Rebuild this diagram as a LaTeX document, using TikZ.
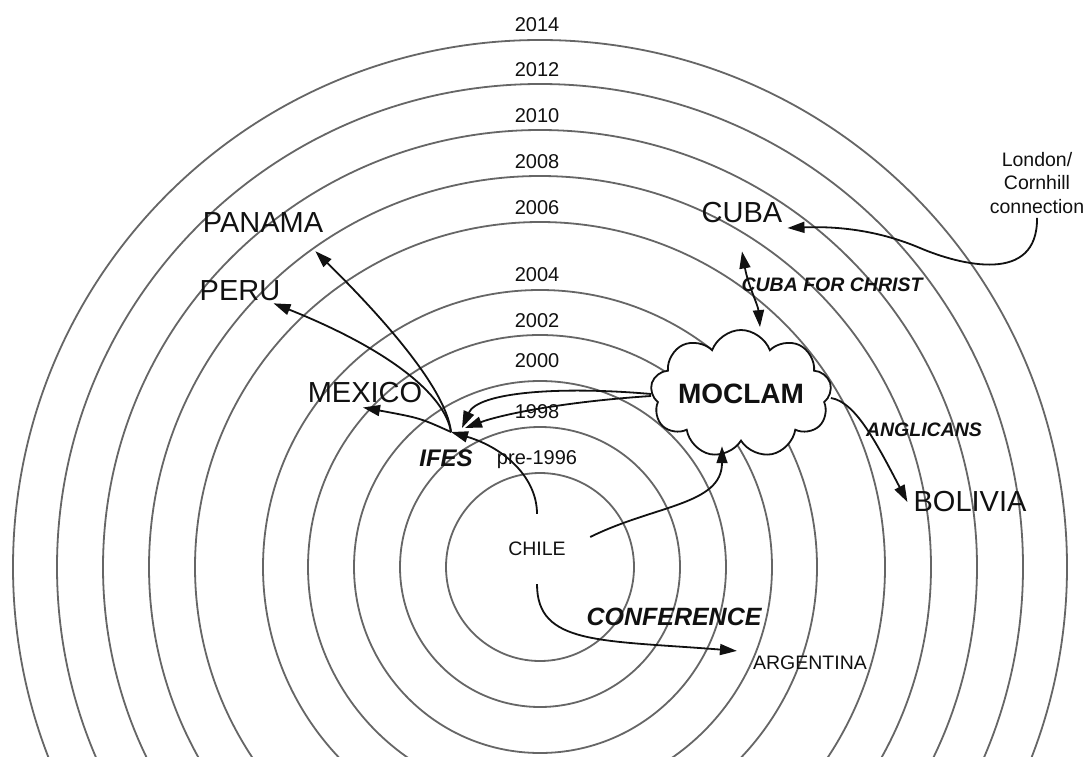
\documentclass[tikz,border=0pt]{standalone}
\usepackage{fontspec}
\setmainfont{Liberation Sans}
\usetikzlibrary{shapes.symbols,arrows.meta}
\definecolor{ringgray}{HTML}{666666}
\definecolor{ink}{HTML}{111111}
\tikzset{
  ring/.style={draw=ringgray, line width=1.8pt},
  conn/.style={draw=ink, line width=1.8pt, -{Triangle[length=17pt,width=11pt]}},
  conn2/.style={draw=ink, line width=1.8pt, {Triangle[length=17pt,width=11pt]}-{Triangle[length=17pt,width=11pt]}},
  yr/.style={text=ink, inner sep=0pt, font=\fontsize{20}{24}\selectfont},
  big/.style={text=ink, inner sep=0pt, font=\fontsize{29}{34}\selectfont},
  small/.style={text=ink, inner sep=0pt, font=\fontsize{19.5}{23.5}\selectfont},
  lab/.style={text=ink, inner sep=0pt, font=\fontsize{19.5}{23.5}\selectfont\bfseries\itshape},
}
\begin{document}
\begin{tikzpicture}[x=1pt,y=-1pt]
\useasboundingbox (0,0) rectangle (1089,757);
\fill[white] (0,0) rectangle (1089,757);
\coordinate (ctr) at (540,567);
\begin{scope}
  \clip (0,0) rectangle (1089,757);
  \foreach \r in {94,140,186,232,277,345,391,437,483,527}
    \draw[ring] (ctr) circle[radius=\r pt];
\end{scope}

% year labels
\node[yr] (y2014) at (537,24.5) {2014};
\node[yr] (y2012) at (537,70) {2012};
\node[yr] (y2010) at (537,115.5) {2010};
\node[yr] (y2008) at (537,161.5) {2008};
\node[yr] (y2006) at (537,207.5) {2006};
\node[yr] (y2004) at (537,275) {2004};
\node[yr] (y2002) at (537,321) {2002};
\node[yr] (y2000) at (537,361) {2000};
\node[yr] (y1998) at (537,411.5) {1998};
\node[yr] (ypre) at (537,460) {pre-1996};

% places
\node[small, minimum width=106pt, minimum height=70pt] (chile) at (537,549) {CHILE};
\node[small] (argentina) at (810,663) {ARGENTINA};
\node[big] (panama) at (263,223) {PANAMA};
\node[big] (peru) at (240,291) {PERU};
\node[big] (mexico) at (365,393) {MEXICO};
\node[big] (cuba) at (742,213) {CUBA};
\node[big] (bolivia) at (970,502) {BOLIVIA};
\node[small, align=center] (london) at (1037,183) {London/\\Cornhill\\connection};
\node[text=ink, inner sep=0pt, font=\fontsize{24}{28}\selectfont\bfseries\itshape] (ifes) at (446,458) {IFES};
\coordinate (hub) at (451,432);

\node[cloud, cloud puffs=9, cloud puff arc=140, cloud ignores aspect,
      minimum width=181pt, minimum height=128pt, draw=ink, fill=white,
      line width=1.8pt, inner sep=0pt,
      font=\fontsize{28}{32}\selectfont\bfseries, text=ink] (moclam) at (741,394) {MOCLAM};

% connectors
\draw[conn] (hub) .. controls (446,385) and (370,305) .. ([xshift=-8pt,yshift=-18pt]panama.south east);
\draw[conn] (hub) .. controls (445,395) and (390,350) .. ([xshift=-7pt,yshift=-2pt]peru.south east);
\draw[conn] (hub) .. controls (420,418) .. ([xshift=-2pt,yshift=-4pt]mexico.south);
\draw[conn] (chile.north) .. controls (537,478) and (505,448) .. (hub);
\draw[conn] (moclam.west) .. controls (560,386) and (478,392) .. (462,428);
\draw[conn] ([yshift=-2pt]moclam.west) .. controls (560,402) and (500,415) .. (465,428);
\draw[conn] ([yshift=12pt]chile.east) .. controls (655,505) and (722,505) .. ([xshift=-19pt,yshift=-4pt]moclam.south);
\draw[conn] (chile.south) .. controls (537,645) and (600,640) .. ([xshift=-16pt,yshift=5pt]argentina.north west);
\draw[conn2] ([yshift=-28pt]cuba.south) .. controls (748,285) and (758,305) .. ([xshift=19pt,yshift=2pt]moclam.north);
\draw[conn] ([yshift=-4pt]london.south) .. controls (1038,285) and (960,265) .. (920,248) .. controls (880,231) and (840,226) .. ([xshift=5pt,yshift=-15pt]cuba.east);
\draw[conn] ([yshift=-4pt]moclam.east) .. controls (855,402) and (875,440) .. ([xshift=-6pt]bolivia.west);

% connector labels
\node[text=ink, inner sep=0pt, font=\fontsize{25}{30}\selectfont\bfseries\itshape] (conf) at (674,617) {CONFERENCE};
\node[lab] (cfc) at (832,285) {CUBA FOR CHRIST};
\node[lab] (angl) at (924,430) {ANGLICANS};
\end{tikzpicture}
\end{document}
